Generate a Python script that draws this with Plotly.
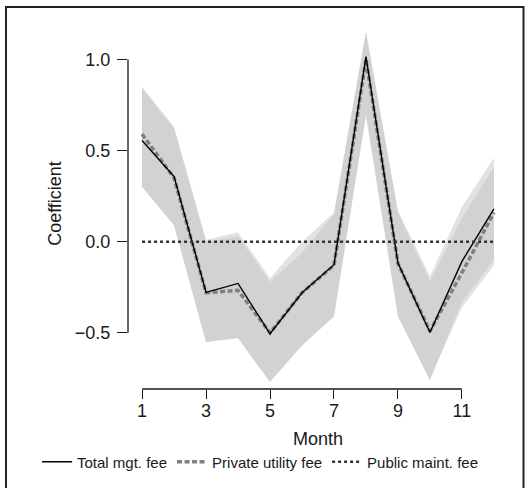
import plotly.graph_objects as go

months = [1, 2, 3, 4, 5, 6, 7, 8, 9, 10, 11, 12]

total_fee = [0.555, 0.357, -0.278, -0.229, -0.505, -0.28, -0.126, 1.015, -0.117, -0.498, -0.108, 0.18]
private_fee = [0.59, 0.35, -0.28, -0.267, -0.50, -0.28, -0.13, 1.0, -0.12, -0.49, -0.17, 0.16]
public_fee = [0, 0, 0, 0, 0, 0, 0, 0, 0, 0, 0, 0]

total_upper = [0.84, 0.62, 0.0, 0.03, -0.22, -0.06, 0.15, 1.15, 0.16, -0.22, 0.13, 0.41]
total_lower = [0.30, 0.09, -0.55, -0.53, -0.77, -0.57, -0.41, 0.70, -0.41, -0.76, -0.33, -0.10]
private_upper = [0.85, 0.63, 0.01, 0.05, -0.20, 0.0, 0.16, 1.15, 0.17, -0.19, 0.19, 0.46]
private_lower = [0.31, 0.09, -0.55, -0.52, -0.76, -0.56, -0.40, 0.69, -0.40, -0.75, -0.36, -0.13]

x_ticks = [1, 3, 5, 7, 9, 11]
y_ticks = [-0.5, 0.0, 0.5, 1.0]

FONT = "Liberation Sans, Arial, sans-serif"
INK = "#1a1a1a"

fig = go.Figure()

# confidence bands (lighter one below)
for lo, up, col in [(private_lower, private_upper, "#e2e2e2"),
                    (total_lower, total_upper, "#d2d2d2")]:
    fig.add_trace(go.Scatter(x=months, y=lo, mode="lines", line=dict(width=0),
                             showlegend=False, hoverinfo="skip"))
    fig.add_trace(go.Scatter(x=months, y=up, mode="lines", line=dict(width=0),
                             fill="tonexty", fillcolor=col,
                             showlegend=False, hoverinfo="skip"))

fig.add_trace(go.Scatter(x=months, y=private_fee, mode="lines", name="Private utility fee",
                         line=dict(color="#808080", width=3.5, dash="5px,2.5px"),
                         legendrank=2))
fig.add_trace(go.Scatter(x=months, y=total_fee, mode="lines", name="Total mgt. fee",
                         line=dict(color="black", width=1.4), legendrank=1))
fig.add_trace(go.Scatter(x=months, y=public_fee, mode="lines", name="Public maint. fee",
                         line=dict(color="#333333", width=2.5, dash="dot"), legendrank=3))

W, H = 530, 488
L, R, T, B = 128, 22, 18, 99
pw, ph = W - L - R, H - T - B

def px_to_paper_x(px):
    return (px - L) / pw

def px_to_paper_y(py):
    return (H - B - py) / ph

shapes = [
    # axis spines spanning the tick range (R style)
    dict(type="line", xref="x", yref="paper", x0=x_ticks[0], x1=x_ticks[-1], y0=0, y1=0,
         line=dict(color=INK, width=1.3)),
    dict(type="line", xref="paper", yref="y", x0=0, x1=0, y0=y_ticks[0], y1=y_ticks[-1],
         line=dict(color=INK, width=1.3)),
    # outer frame (bottom edge falls outside the picture, as in the reference)
    dict(type="rect", xref="paper", yref="paper",
         x0=px_to_paper_x(6), x1=px_to_paper_x(523.5),
         y0=px_to_paper_y(500), y1=px_to_paper_y(7),
         line=dict(color="#222222", width=2), fillcolor="rgba(0,0,0,0)"),
]

fig.update_layout(
    width=W, height=H,
    margin=dict(l=L, r=R, t=T, b=B, autoexpand=False),
    paper_bgcolor="white", plot_bgcolor="white",
    font=dict(family=FONT, size=18, color=INK),
    shapes=shapes,
    showlegend=True,
    legend=dict(orientation="h", x=px_to_paper_x(37), xanchor="left",
                y=px_to_paper_y(462), yanchor="middle", traceorder="normal",
                font=dict(size=15, family=FONT, color=INK),
                bgcolor="rgba(0,0,0,0)", itemwidth=30, tracegroupgap=0),
    xaxis=dict(range=[0.56, 12.44], tickvals=x_ticks, ticks="outside", ticklen=9,
               tickwidth=1.3, tickcolor=INK, showgrid=False, zeroline=False, showline=False,
               tickfont=dict(size=18), ticklabelstandoff=-4,
               title=dict(text="Month", font=dict(size=18), standoff=12),
               automargin=False),
    yaxis=dict(range=[-0.808, 1.227], tickvals=y_ticks, tickformat=".1f", ticks="outside",
               ticklen=10, tickwidth=1.3, tickcolor=INK, showgrid=False, zeroline=False,
               showline=False, tickfont=dict(size=18), ticklabelstandoff=3,
               title=dict(text="Coefficient", font=dict(size=18), standoff=8),
               automargin=False),
)

fig.write_html("out.html", config={"displayModeBar": False},
               post_script="document.body.style.margin='0';document.body.style.overflow='hidden';")
